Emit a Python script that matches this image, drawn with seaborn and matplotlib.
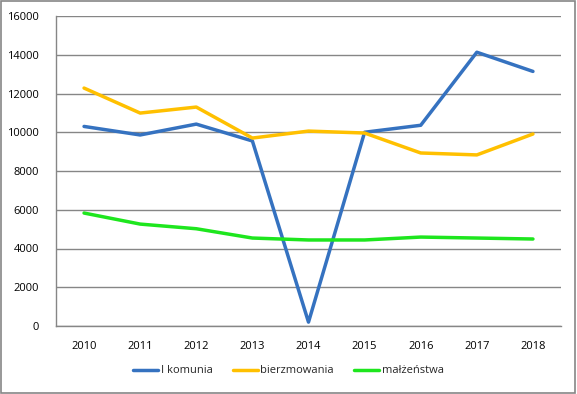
import pandas as pd
import matplotlib.pyplot as plt
import seaborn as sns
from matplotlib.patches import Rectangle

years = ["2010", "2011", "2012", "2013", "2014", "2015", "2016", "2017", "2018"]
komunia = [10300, 9860, 10420, 9550, 200, 10000, 10360, 14130, 13140]
bierzmowania = [12280, 10990, 11300, 9700, 10060, 9960, 8930, 8830, 9910]
malzenstwa = [5830, 5260, 5020, 4540, 4440, 4440, 4590, 4540, 4490]
series_names = ["I komunia", "bierzmowania", "małżeństwa"]
colors = ["#3572C0", "#FFC000", "#1EE61E"]


def main():
    sns.set_style("white")
    plt.rcParams["font.family"] = ["Open Sans", "DejaVu Sans"]

    df = pd.DataFrame({"rok": years, series_names[0]: komunia,
                       series_names[1]: bierzmowania, series_names[2]: malzenstwa})
    long = df.melt(id_vars="rok", var_name="seria", value_name="liczba")
    long["x"] = long["rok"].map({y: i for i, y in enumerate(years)})

    fig = plt.figure(figsize=(5.77, 3.94), dpi=100)
    ax = fig.add_axes([56 / 577, 1 - 326 / 394, 505 / 577, 310 / 394])

    sns.lineplot(data=long, x="x", y="liczba", hue="seria", hue_order=series_names,
                 palette=dict(zip(series_names, colors)), linewidth=2.5,
                 ax=ax, legend=True)

    ax.set_xlim(-0.5, len(years) - 0.5)
    ax.set_ylim(0, 16000)
    ax.set_xticks(range(len(years)))
    ax.set_xticklabels(years)
    ax.set_yticks(range(0, 16001, 2000))
    ax.set_xlabel("")
    ax.set_ylabel("")
    ax.tick_params(axis="both", length=0, labelsize=8, labelcolor="#000000")
    ax.tick_params(axis="y", pad=12)
    ax.tick_params(axis="x", pad=11)
    ax.grid(axis="y", color="#868686", linewidth=1)
    ax.set_axisbelow(True)
    for side in ["top", "right"]:
        ax.spines[side].set_visible(False)
    for side in ["left", "bottom"]:
        ax.spines[side].set_color("#868686")
        ax.spines[side].set_linewidth(1)

    # legend below the plot, one row, no frame
    handles, labels = ax.get_legend_handles_labels()
    ax.legend(handles, labels, loc="center", bbox_to_anchor=(0.46, -0.145),
              ncol=3, frameon=False, fontsize=8, handlelength=2.3,
              handletextpad=0.2, columnspacing=1.8)

    fig.patches.append(Rectangle((0.002, 0.003), 0.995, 0.994, transform=fig.transFigure,
                                 fill=False, edgecolor="#868686", linewidth=1.2))

    fig.savefig("out.png", dpi=100)


if __name__ == "__main__":
    main()
